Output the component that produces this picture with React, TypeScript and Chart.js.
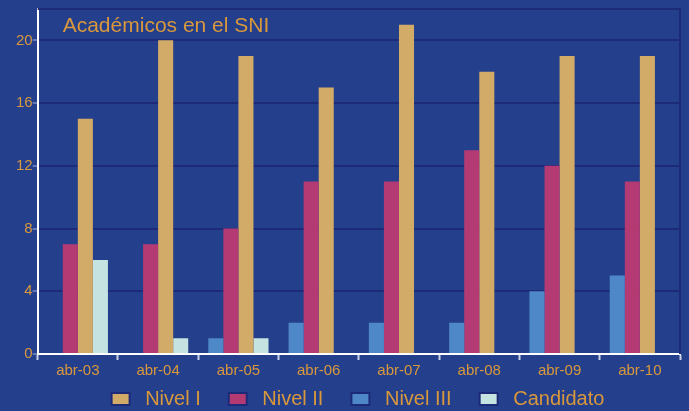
import React, { useEffect, useRef } from "react";
import { Chart, registerables } from "chart.js";

Chart.register(...registerables);

const categories = ["abr-03", "abr-04", "abr-05", "abr-06", "abr-07", "abr-08", "abr-09", "abr-10"];
const nivelIII = [0, 0, 1, 2, 2, 2, 4, 5];
const nivelII = [7, 7, 8, 11, 11, 13, 12, 11];
const nivelI = [15, 20, 19, 17, 21, 18, 19, 19];
const candidato = [6, 1, 1, 0, 0, 0, 0, 0];
const yTicks = [0, 4, 8, 12, 16, 20];
const yMax = 22;
const title = "Académicos en el SNI";

const BG = "#243f8c";
const GRID = "#1c2a78";
const TEXT = "#d9983b";
const FONT = "'Liberation Sans', Arial, sans-serif";

const legendOrder = ["Nivel I", "Nivel II", "Nivel III", "Candidato"];

const framePlugin = {
  id: "frameAndTitle",
  beforeDraw(chart: any) {
    const lg = chart.legend;
    if (lg) {
      lg.top = 361;
      lg.bottom = 420;
      lg.height = 59;
      lg.left = 36;
      lg.right = 680;
      lg.width = 644;
    }
  },
  afterDraw(chart: any) {
    const { ctx, chartArea } = chart;
    ctx.save();
    ctx.strokeStyle = GRID;
    ctx.lineWidth = 2;
    ctx.beginPath();
    ctx.moveTo(chartArea.left, chartArea.top);
    ctx.lineTo(chartArea.right, chartArea.top);
    ctx.lineTo(chartArea.right, chartArea.bottom);
    ctx.stroke();
    ctx.fillStyle = TEXT;
    ctx.font = `21px ${FONT}`;
    ctx.textBaseline = "middle";
    ctx.textAlign = "left";
    ctx.fillText(title, chartArea.left + 25, chartArea.top + 17);
    ctx.restore();
  },
};

export default function App() {
  const ref = useRef<HTMLCanvasElement>(null);
  useEffect(() => {
    document.body.style.margin = "0";
    document.body.style.background = BG;
    const chart = new Chart(ref.current!, {
      type: "bar",
      data: {
        labels: categories,
        datasets: [
          { label: "Nivel III", data: nivelIII, backgroundColor: "#4f88c8" },
          { label: "Nivel II", data: nivelII, backgroundColor: "#b43a74" },
          { label: "Nivel I", data: nivelI, backgroundColor: "#d3ab68" },
          { label: "Candidato", data: candidato, backgroundColor: "#c4e3e1" },
        ],
      },
      options: {
        animation: false,
        responsive: false,
        maintainAspectRatio: false,
        datasets: { bar: { categoryPercentage: 0.75, barPercentage: 1.0 } } as any,
        layout: { padding: { left: 16, right: 9, top: 7, bottom: -2 } },
        scales: {
          x: {
            offset: true,
            grid: {
              offset: true,
              drawOnChartArea: false,
              drawTicks: true,
              tickLength: 6,
              tickColor: "#c8d0e8",
              tickWidth: 2,
            },
            border: { color: "#ffffff", width: 2 },
            ticks: { color: TEXT, font: { family: FONT, size: 15 }, padding: 2 },
          },
          y: {
            min: 0,
            max: yMax,
            afterBuildTicks(axis: any) {
              axis.ticks = yTicks.map((v) => ({ value: v }));
            },
            grid: {
              color: GRID,
              lineWidth: 2,
              drawTicks: true,
              tickLength: 5,
              tickColor: "#aab4dc",
              tickWidth: 1,
            },
            border: { color: "#ffffff", width: 2 },
            ticks: {
              color: TEXT,
              font: { family: FONT, size: 15 },
              padding: 0,
            },
          },
        },
        plugins: {
          title: { display: false },
          tooltip: { enabled: false },
          legend: {
            position: "bottom",
            maxHeight: 31,
            labels: {
              color: TEXT,
              font: { family: FONT, size: 20 },
              boxWidth: 18,
              boxHeight: 12,
              padding: 28,
              sort: (a: any, b: any) =>
                legendOrder.indexOf(a.text.trim()) - legendOrder.indexOf(b.text.trim()),
              generateLabels: (chart: any) =>
                chart.data.datasets.map((ds: any, i: number) => ({
                  text: " " + ds.label,
                  fillStyle: ds.backgroundColor,
                  strokeStyle: GRID,
                  lineWidth: 2,
                  fontColor: TEXT,
                  hidden: false,
                  datasetIndex: i,
                })),
            },
          } as any,
        },
      },
      plugins: [framePlugin],
    });
    return () => chart.destroy();
  }, []);
  return (
    <div style={{ width: 689, height: 411, background: BG }}>
      <canvas ref={ref} width={689} height={411} style={{ display: "block" }} />
    </div>
  );
}
